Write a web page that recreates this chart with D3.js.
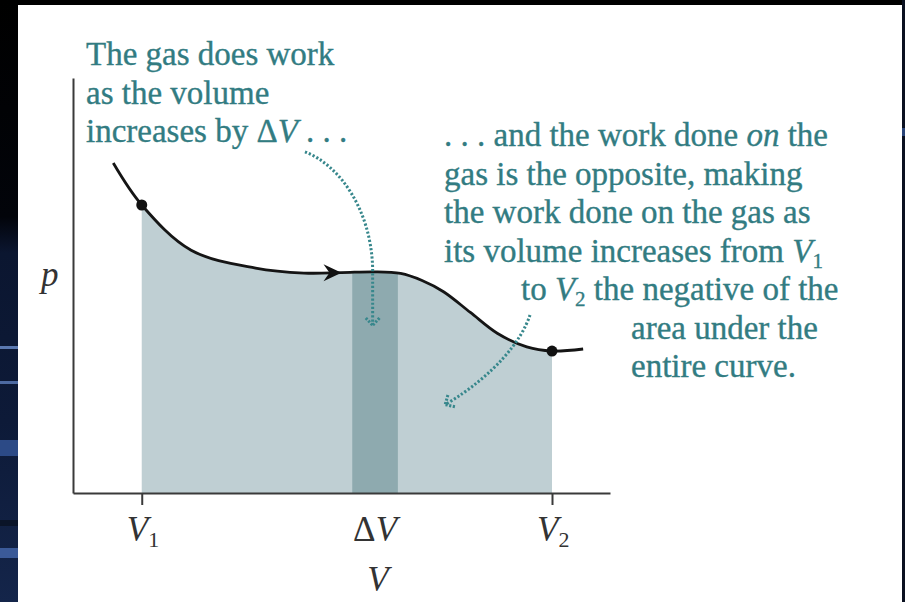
<!DOCTYPE html>
<html>
<head>
<meta charset="utf-8">
<script src="https://cdn.jsdelivr.net/npm/d3@7"></script>
<style>
  html, body { margin: 0; padding: 0; background: #000; }
  svg { display: block; }
  text { font-family: "Liberation Serif", "Times New Roman", serif; }
</style>
</head>
<body>
<svg id="chart" width="905" height="602"></svg>
<script>
// p–V curve of the gas (volume, pressure in arbitrary units)
const volume   = [0.75, 1.28, 2.2, 3.4, 4.3, 5.0, 5.6, 6.1, 6.5, 6.9, 7.4, 7.9, 8.45, 8.92, 9.5];
const pressure = [7.95, 6.94, 5.85, 5.42, 5.3, 5.31, 5.33, 5.29, 5.12, 4.85, 4.35, 3.85, 3.52, 3.42, 3.47];

// marked volumes on the V axis
const tickNames  = ["V1", "V2"];
const tickValues = [1.28, 8.92];
// the small step ΔV
const deltaV = [5.2, 6.05];
// where the direction arrow sits on the curve
const arrowV = 5.0;

const svg = d3.select("#chart");
const W = 905, H = 602;

// ---- slide backdrop ----
svg.append("rect").attr("width", W).attr("height", H).attr("fill", "#000");
const grad = svg.append("defs").append("linearGradient")
  .attr("id", "strip").attr("x1", 0).attr("y1", 0).attr("x2", 0).attr("y2", 1);
[[0, "#000"], [0.36, "#02040a"], [0.42, "#0b1630"], [0.7, "#0d1a38"], [1, "#14254a"]]
  .forEach(([o, c]) => grad.append("stop").attr("offset", o).attr("stop-color", c));
svg.append("rect").attr("x", 0).attr("y", 0).attr("width", 18).attr("height", H).attr("fill", "url(#strip)");
[[346, 3, "#5a78b0"], [381, 3, "#4d6aa2"], [440, 16, "#2c4a86"], [520, 6, "#0a1428"], [548, 10, "#3b5a98"]]
  .forEach(([yy, h, c]) => svg.append("rect").attr("x", 0).attr("y", yy).attr("width", 18).attr("height", h).attr("fill", c));
svg.append("rect").attr("x", 902).attr("y", 0).attr("width", 3).attr("height", H).attr("fill", "#0a1020");
svg.append("rect").attr("x", 902).attr("y", 128).attr("width", 3).attr("height", 8).attr("fill", "#2a4478");

// white figure panel
svg.append("rect").attr("x", 18).attr("y", 5).attr("width", 884).attr("height", H - 5).attr("fill", "#fff");

// ---- scales ----
const x = d3.scaleLinear().domain([0, 10]).range([73, 610]);
const y = d3.scaleLinear().domain([0, 10]).range([493, 78]);

const pts = volume.map((v, i) => ({ v, p: pressure[i] }));
const curve = d3.curveCatmullRom.alpha(0.5);
const area = d3.area().x(d => x(d.v)).y0(y(0)).y1(d => y(d.p)).curve(curve);
const line = d3.line().x(d => x(d.v)).y(d => y(d.p)).curve(curve);

const defs = svg.append("defs");
defs.append("clipPath").attr("id", "clipWork").append("rect")
  .attr("x", x(tickValues[0])).attr("y", 0)
  .attr("width", x(tickValues[1]) - x(tickValues[0])).attr("height", H);
defs.append("clipPath").attr("id", "clipDV").append("rect")
  .attr("x", x(deltaV[0])).attr("y", 0)
  .attr("width", x(deltaV[1]) - x(deltaV[0])).attr("height", H);

// area under the curve from V1 to V2, and the ΔV strip
svg.append("path").datum(pts).attr("d", area)
  .attr("fill", "#bfcfd3").attr("clip-path", "url(#clipWork)");
svg.append("path").datum(pts).attr("d", area)
  .attr("fill", "#8eaaaf").attr("clip-path", "url(#clipDV)");

// ---- axes ----
const axisColor = "#3a3a3a";
const gx = svg.append("g").attr("transform", `translate(0,${y(0)})`)
  .call(d3.axisBottom(x).tickValues(tickValues).tickSize(12).tickSizeOuter(0).tickFormat(""));
const gy = svg.append("g").attr("transform", `translate(${x(0)},0)`)
  .call(d3.axisLeft(y).tickValues([]).tickSizeOuter(0));
[gx, gy].forEach(g => {
  g.select(".domain").attr("stroke", axisColor).attr("stroke-width", 2);
  g.selectAll(".tick line").attr("stroke", axisColor).attr("stroke-width", 2);
});

// tick labels V1, V2, ΔV and axis titles
const labelSize = 35;
tickNames.forEach((name, i) => {
  const t = svg.append("text").attr("x", x(tickValues[i]) - 15).attr("y", 541)
    .attr("font-size", labelSize).attr("fill", "#333");
  t.append("tspan").attr("font-style", "italic").text(name[0]);
  t.append("tspan").attr("font-size", 22).attr("dy", 6).text(name.slice(1));
});
const dvText = svg.append("text").attr("x", (x(deltaV[0]) + x(deltaV[1])) / 2).attr("y", 541)
  .attr("text-anchor", "middle").attr("font-size", labelSize).attr("fill", "#333");
dvText.append("tspan").text("Δ");
dvText.append("tspan").attr("font-style", "italic").text("V");
svg.append("text").attr("x", (x(deltaV[0]) + x(deltaV[1])) / 2 + 3).attr("y", 591)
  .attr("text-anchor", "middle").attr("font-size", labelSize).attr("font-style", "italic")
  .attr("fill", "#333").text("V");
svg.append("text").attr("x", 41).attr("y", 286)
  .attr("font-size", labelSize).attr("font-style", "italic").attr("fill", "#333").text("p");

// ---- the p–V curve ----
const curvePath = svg.append("path").datum(pts).attr("d", line)
  .attr("fill", "none").attr("stroke", "#151515").attr("stroke-width", 2.8);

// endpoints at V1 and V2 (located on the drawn curve)
const node = curvePath.node();
const total = node.getTotalLength();
function pointAtX(px) {
  let lo = 0, hi = total;
  for (let k = 0; k < 40; k++) {
    const mid = (lo + hi) / 2;
    if (node.getPointAtLength(mid).x < px) lo = mid; else hi = mid;
  }
  return node.getPointAtLength((lo + hi) / 2);
}
tickValues.forEach(v => {
  const pt = pointAtX(x(v));
  svg.append("circle").attr("cx", pt.x).attr("cy", pt.y).attr("r", 5.5).attr("fill", "#111");
});

// direction arrow on the curve
const tip = pointAtX(x(arrowV));
svg.append("path")
  .attr("d", `M${tip.x},${tip.y} L${tip.x - 18},${tip.y - 8.5} L${tip.x - 12},${tip.y} L${tip.x - 18},${tip.y + 8.5} Z`)
  .attr("fill", "#111");

// ---- dotted callout arrows ----
const teal = "#37878c";
function dottedArrow(segs, headAngle) {
  const p = d3.path();
  p.moveTo(x(segs[0][0]), y(segs[0][1]));
  segs.slice(1).forEach(s => {
    if (s.length === 6) p.bezierCurveTo(x(s[0]), y(s[1]), x(s[2]), y(s[3]), x(s[4]), y(s[5]));
    else p.lineTo(x(s[0]), y(s[1]));
  });
  svg.append("path").attr("d", p.toString()).attr("fill", "none")
    .attr("stroke", teal).attr("stroke-width", 3).attr("stroke-dasharray", "2.2 2");
  const last = segs[segs.length - 1];
  const tx = x(last[last.length - 2]), ty = y(last[last.length - 1]);
  const len = 10, spread = 0.75;
  const h = d3.path();
  [headAngle + Math.PI - spread, headAngle + Math.PI + spread].forEach(a => {
    h.moveTo(tx + len * Math.cos(a), ty + len * Math.sin(a));
    h.lineTo(tx, ty);
  });
  svg.append("path").attr("d", h.toString()).attr("fill", "none")
    .attr("stroke", teal).attr("stroke-width", 3).attr("stroke-dasharray", "2.2 1.5");
}
// from the left note down into the ΔV strip
dottedArrow([[4.32, 8.22], [4.97, 7.9, 5.55, 6.82, 5.58, 5.42], [5.58, 4.04]], Math.PI / 2);
// from the right note down-left into the area
dottedArrow([[8.51, 4.29], [8.36, 3.69, 7.86, 2.84, 6.93, 2.13]], Math.atan2(30, -50));

// ---- explanatory notes ----
const noteSize = 33, noteColor = "#327c82";
function styleNote(t) {
  return t.attr("font-size", noteSize).attr("fill", noteColor)
    .attr("stroke", noteColor).attr("stroke-width", 0.35);
}
function note(xp, yp, parts) {
  const t = styleNote(svg.append("text").attr("x", xp).attr("y", yp));
  parts.forEach(pt => {
    const s = t.append("tspan").text(pt.t);
    if (pt.i) s.attr("font-style", "italic");
    if (pt.sub) s.attr("font-size", 21).attr("dy", pt.sub);
  });
}
note(86, 65,  [{ t: "The gas does work" }]);
note(86, 103.5, [{ t: "as the volume" }]);
note(86, 142, [{ t: "increases by Δ" }, { t: "V", i: true }, { t: " . . ." }]);

note(444, 146,   [{ t: ". . . and the work done " }, { t: "on", i: true }, { t: " the" }]);
note(444, 184.5, [{ t: "gas is the opposite, making" }]);
note(444, 223,   [{ t: "the work done on the gas as" }]);
note(444, 261.5, [{ t: "its volume increases from " }, { t: "V", i: true }, { t: "1", sub: 6 }]);
const l5 = styleNote(svg.append("text").attr("x", 521).attr("y", 300));
l5.append("tspan").text("to ");
l5.append("tspan").attr("font-style", "italic").text("V");
l5.append("tspan").attr("font-size", 21).attr("dy", 6).text("2");
l5.append("tspan").attr("dy", -6).text(" the negative of the");
note(631, 338.5, [{ t: "area under the" }]);
note(631, 377,   [{ t: "entire curve." }]);
</script>
</body>
</html>
